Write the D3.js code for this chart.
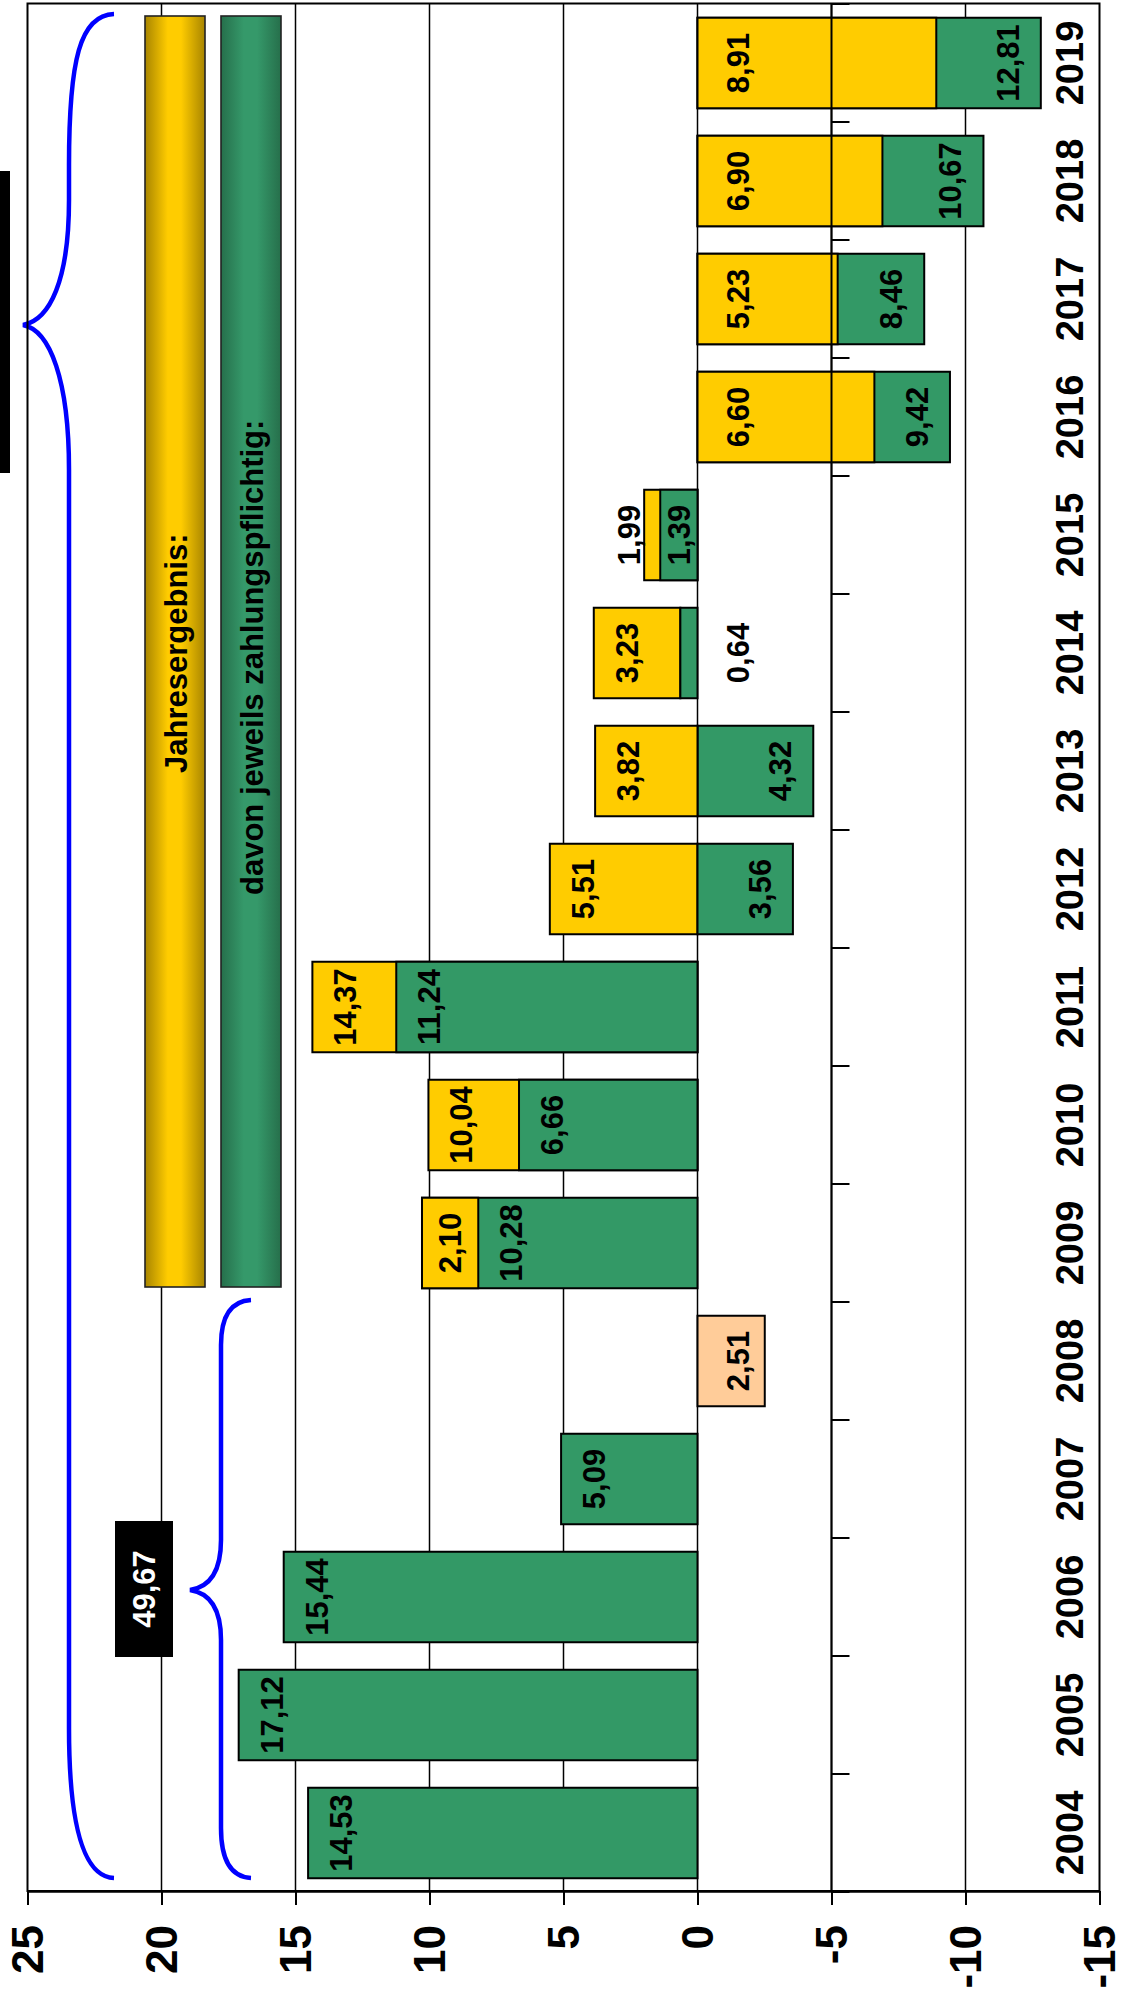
<!DOCTYPE html>
<html>
<head>
<meta charset="utf-8">
<script src="https://cdn.jsdelivr.net/npm/d3@7"></script>
<style>
  body { margin: 0; background: #fff; }
  svg { display: block; }
  text { font-family: "Liberation Sans", Arial, sans-serif; font-weight: bold; }
</style>
</head>
<body>
<svg id="chart" width="1132" height="1995"></svg>
<script>
// Jahresergebnis und davon zahlungspflichtiger Anteil, 2004–2019 (Mio.)
const years = [2004, 2005, 2006, 2007, 2008, 2009, 2010, 2011, 2012, 2013, 2014, 2015, 2016, 2017, 2018, 2019];
const zahlungspflichtig = [14.53, 17.12, 15.44, 5.09, null, 10.28, 6.66, 11.24, -3.56, -4.32, 0.64, 1.39, -9.42, -8.46, -10.67, -12.81];
const jahresergebnis = [null, null, null, null, null, 2.10, 10.04, 14.37, 5.51, 3.82, 3.23, 1.99, -6.60, -5.23, -6.90, -8.91];
const verlust2008 = [null, null, null, null, -2.51, null, null, null, null, null, null, null, null, null, null, null];
// where the Jahresergebnis piece starts when it sits on top of the green one
const gelbBasis = [0, 0, 0, 0, 0, 8.18, 0, 0, 0, 0, 0.64, 0, 0, 0, 0, 0];
const valueTicks = [25, 20, 15, 10, 5, 0, -5, -10, -15];
const legendLabels = ["Jahresergebnis:", "davon jeweils zahlungspflichtig:"];

const colors = { z: "#339966", j: "#FFCC00", v: "#FFCC99" };
const fmt = v => d3.format(".2f")(Math.abs(v)).replace(".", ",");

const svg = d3.select("#chart");
const x = d3.scaleLinear().domain([25, -15]).range([27.5, 1099.5]);
const y = d3.scaleBand().domain(years).range([1892, 4]).paddingInner(0.233).paddingOuter(0.1165);
const plotTop = 3.5, plotBottom = 1891;

// gradients for the legend columns
const defs = svg.append("defs");
function gradient(id, edge, mid) {
  const g = defs.append("linearGradient").attr("id", id).attr("x1", 0).attr("x2", 1).attr("y1", 0).attr("y2", 0);
  [[0, edge], [0.38, mid], [0.6, mid], [1, edge]].forEach(([o, c]) => g.append("stop").attr("offset", o).attr("stop-color", c));
}
gradient("gGelb", "#A88500", "#FFCC00");
gradient("gGruen", "#266F4B", "#35996A");

// vertical gridlines
svg.append("g")
  .selectAll("line")
  .data(valueTicks.filter(v => v !== 25 && v !== -15))
  .join("line")
  .attr("x1", d => x(d)).attr("x2", d => x(d))
  .attr("y1", plotTop).attr("y2", plotBottom)
  .attr("stroke", "#000").attr("stroke-width", 1.5);

// legend columns
const legend = svg.append("g");
[[145, 205, "url(#gGelb)", 187, 773], [221, 281, "url(#gGruen)", 263, 895]].forEach(([x0, x1, fill, bx, by], i) => {
  legend.append("rect").attr("x", x0).attr("y", 16).attr("width", x1 - x0).attr("height", 1287 - 16)
    .attr("fill", fill).attr("stroke", "#222").attr("stroke-width", 1.6);
  legend.append("text").attr("transform", `translate(${bx},${by}) rotate(-90)`)
    .attr("font-size", 31).attr("fill", "#000").text(legendLabels[i]);
});

// braces
const braces = svg.append("g").attr("fill", "none").attr("stroke", "#0000FF").attr("stroke-width", 4.5);
braces.append("path").attr("d",
  "M114,14 C80,15 69,60 69,165 L69,200 C69,280 50,320 23,325 C50,330 69,380 69,470 L69,1728 C69,1830 85,1877 114,1878");
braces.append("path").attr("d",
  "M251,1300 C232,1301 221,1315 221,1345 L221,1540 C221,1572 210,1587 190,1590 C210,1593 221,1608 221,1640 L221,1828 C221,1862 232,1877 251,1878");

// label boxes next to the braces
svg.append("rect").attr("x", -60).attr("y", 171).attr("width", 70).attr("height", 302).attr("fill", "#000");
const summe = d3.sum(zahlungspflichtig.slice(0, 4)) + verlust2008[4];
svg.append("rect").attr("x", 115).attr("y", 1521).attr("width", 58).attr("height", 136).attr("fill", "#000");
svg.append("text").attr("transform", "translate(144,1589) rotate(-90)")
  .attr("text-anchor", "middle").attr("dy", "0.35em").attr("font-size", 31).attr("fill", "#fff")
  .text(fmt(summe));

// bar segments per year
const rows = years.map((year, i) => {
  const segs = [];
  if (zahlungspflichtig[i] != null) segs.push({ s: "z", value: zahlungspflichtig[i], base: 0, end: zahlungspflichtig[i] });
  if (jahresergebnis[i] != null) segs.push({ s: "j", value: jahresergebnis[i], base: gelbBasis[i], end: gelbBasis[i] + jahresergebnis[i] });
  if (verlust2008[i] != null) segs.push({ s: "v", value: verlust2008[i], base: 0, end: verlust2008[i] });
  segs.sort((a, b) => (Math.abs(b.end) - Math.abs(a.end)) || (Math.abs(a.base) - Math.abs(b.base)));
  segs.forEach(d => d.year = year);
  return segs;
});

const bars = svg.append("g");
rows.forEach(segs => {
  bars.selectAll(null).data(segs).join("rect")
    .attr("x", d => Math.min(x(d.base), x(d.end)))
    .attr("width", d => Math.abs(x(d.end) - x(d.base)))
    .attr("y", d => y(d.year))
    .attr("height", y.bandwidth())
    .attr("fill", d => colors[d.s])
    .attr("stroke", "#000").attr("stroke-width", 2);
});

// visible part of each segment (the ones drawn later cover it)
function visiblePiece(segs, k) {
  let pieces = [[Math.min(segs[k].base, segs[k].end), Math.max(segs[k].base, segs[k].end)]];
  for (let m = k + 1; m < segs.length; m++) {
    const lo = Math.min(segs[m].base, segs[m].end), hi = Math.max(segs[m].base, segs[m].end);
    pieces = pieces.flatMap(([a, b]) => {
      if (hi <= a || lo >= b) return [[a, b]];
      const out = [];
      if (lo > a) out.push([a, lo]);
      if (hi < b) out.push([hi, b]);
      return out;
    });
  }
  return pieces.sort((p, q) => (q[1] - q[0]) - (p[1] - p[0]))[0];
}

// value labels
const labels = svg.append("g").attr("font-size", 31).attr("fill", "#000");
rows.forEach(segs => {
  segs.forEach((d, k) => {
    const pos = d.end > 0;
    const toZero = pos ? 1 : -1;
    const piece = visiblePiece(segs, k);
    const outer = pos ? piece[1] : piece[0];
    const inner = pos ? piece[0] : piece[1];
    const len = Math.abs(x(outer) - x(inner));
    const outermost = segs.every(o => o === d || (pos ? o.end <= d.end : o.end >= d.end));
    let cx;
    if (d.s !== "z" && d.end < 0) cx = x(0) + 41;
    else if (len >= 60) cx = x(outer) + toZero * 33;
    else if (len >= 30) cx = (x(outer) + x(inner)) / 2;
    else if (outermost) cx = x(outer) - toZero * 15;
    else cx = x(0) + toZero * 41;
    labels.append("text")
      .attr("transform", `translate(${cx},${y(d.year) + y.bandwidth() / 2}) rotate(-90)`)
      .attr("text-anchor", "middle").attr("dy", "0.35em")
      .text(fmt(d.value));
  });
});

// category axis line at -5 with ticks between the years
const catAxis = svg.append("g").attr("stroke", "#000");
catAxis.append("line").attr("x1", x(-5)).attr("x2", x(-5)).attr("y1", plotTop).attr("y2", plotBottom).attr("stroke-width", 2);
const bounds = [y(years[years.length - 1]) - (y.step() - y.bandwidth()) / 2]
  .concat(years.map(yr => y(yr) + y.bandwidth() + (y.step() - y.bandwidth()) / 2));
catAxis.selectAll(null).data(bounds).join("line")
  .attr("x1", x(-5)).attr("x2", x(-5) + 18)
  .attr("y1", d => d).attr("y2", d => d).attr("stroke-width", 2);

// plot frame
svg.append("rect").attr("x", x(25)).attr("y", plotTop).attr("width", x(-15) - x(25)).attr("height", plotBottom - plotTop)
  .attr("fill", "none").attr("stroke", "#000").attr("stroke-width", 2);

// value axis
const axis = svg.append("g").attr("transform", `translate(0,${plotBottom})`)
  .call(d3.axisBottom(x).tickValues(valueTicks).tickSize(14).tickSizeOuter(0).tickFormat(d => String(d)));
axis.select(".domain").attr("stroke", "#000").attr("stroke-width", 2.5);
axis.selectAll(".tick line").attr("stroke", "#000").attr("stroke-width", 2);
axis.selectAll(".tick text")
  .attr("y", null).attr("dy", "0.35em").attr("x", null)
  .attr("transform", "translate(0,34) rotate(-90)")
  .attr("text-anchor", "end")
  .attr("font-size", 44).attr("font-family", "Liberation Sans, Arial, sans-serif").attr("font-weight", "bold")
  .attr("fill", "#000");

// year labels
svg.append("g").attr("font-size", 38).attr("fill", "#000")
  .selectAll("text").data(years).join("text")
  .attr("transform", d => `translate(1070,${y(d) + y.bandwidth() / 2}) rotate(-90)`)
  .attr("text-anchor", "middle").attr("dy", "0.35em")
  .text(d => d);
</script>
</body>
</html>
